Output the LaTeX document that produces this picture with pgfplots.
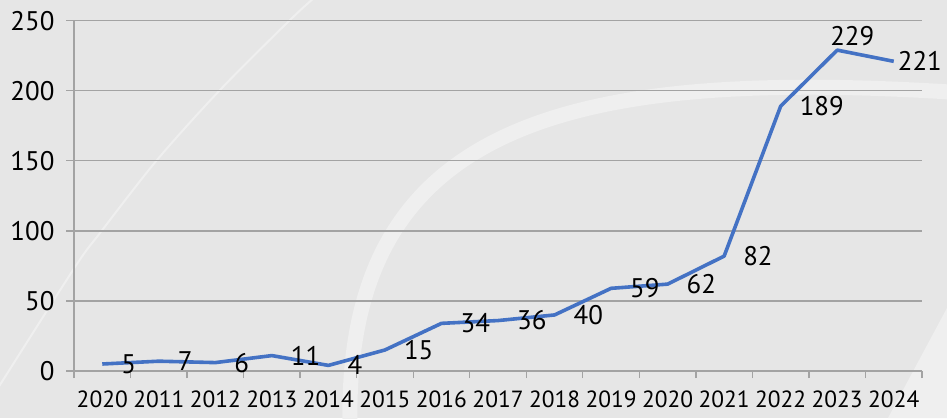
\documentclass[border=0pt]{standalone}
\usepackage{fontspec}
\setmainfont{PT Sans}
\usepackage{pgfplots}
\pgfplotsset{compat=1.18}

\definecolor{bg}{HTML}{E6E6E6}
\definecolor{arcc}{HTML}{EFEFEF}
\definecolor{gridc}{HTML}{A3A3A3}
\definecolor{lineblue}{HTML}{4472C4}

\begin{document}
\begin{tikzpicture}
\begin{scope}[x=1bp,y=1bp]
  \fill[bg] (0,0) rectangle (947,418);
  \clip (0,0) rectangle (947,418);
  \draw[arcc, line width=2bp] plot[smooth] coordinates {(-2,30) (75,151) (100,185) (157,258) (220,328) (290,398) (314,420)};
  \draw[arcc, line width=15bp] (350,-5) .. controls (345,290) and (560,350) .. (950,326);
  \fill[arcc] (888,0) -- (947,110) -- (947,0) -- cycle;
\end{scope}
\begin{axis}[
    at={(74bp,47bp)}, anchor=south west,
    scale only axis, width=848bp, height=350.3bp,
    xmin=-0.5, xmax=14.5, ymin=0, ymax=250,
    axis x line*=bottom, axis y line*=left,
    axis line style={gridc, line width=1.3bp},
    xtick={0,...,14},
    xticklabels={2020,2011,2012,2013,2014,2015,2016,2017,2018,2019,2020,2021,2022,2023,2024},
    minor xtick={-0.5,0.5,...,14.5},
    every major x tick/.append style={draw=none},
    ytick={0,50,...,250},
    ymajorgrids, grid style={gridc, line width=1.3bp},
    tick align=outside, major tick length=8bp, minor tick length=7bp,
    tick style={gridc, line width=1.3bp},
    x tick label style={font=\fontsize{23.5}{23.5}\selectfont, yshift=-8bp},
    y tick label style={font=\fontsize{27}{27}\selectfont, xshift=-8bp},
    /pgf/number format/assume math mode=true,
    clip=false,
]
% labels sit right of each point; 229 above, 221 close to the end
\addplot[lineblue, line width=3.6bp, line join=round, no markers,
    nodes near coords, point meta=y,
    visualization depends on={x \as \xx},
    every node near coord/.append style={anchor=west,
        xshift={ifthenelse(\xx>13.5,-1,ifthenelse(\xx>12.5,-12,14))*1bp},
        yshift={ifthenelse(\xx>13.5,0,ifthenelse(\xx>12.5,14,0))*1bp},
        text=black, font=\fontsize{27}{27}\selectfont}]
    coordinates {
    (0,5) (1,7) (2,6) (3,11) (4,4) (5,15) (6,34) (7,36)
    (8,40) (9,59) (10,62) (11,82) (12,189) (13,229) (14,221)
    };
\end{axis}
\end{tikzpicture}
\end{document}
